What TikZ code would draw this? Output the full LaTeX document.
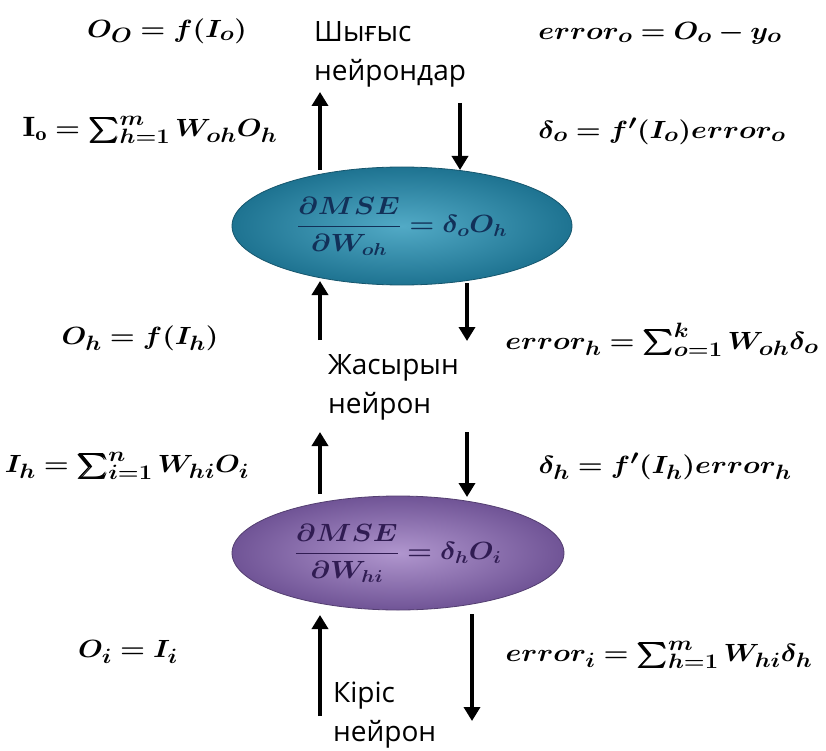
\documentclass[tikz,border=0pt]{standalone}
\usepackage{amsmath}
\usepackage{bm}
\usepackage{graphicx}
\usepackage{fontspec}
\setsansfont{Open Sans}
\usetikzlibrary{arrows.meta,shapes.geometric}
\definecolor{tealout}{RGB}{30,115,145}
\definecolor{tealin}{RGB}{82,170,198}
\definecolor{purpout}{RGB}{112,84,150}
\definecolor{purpin}{RGB}{176,150,206}
\definecolor{tealtxt}{RGB}{18,48,88}
\definecolor{purptxt}{RGB}{48,28,82}
\newcommand{\wideq}[1]{\scalebox{1.15}[1]{$#1$}}
\tikzset{
  eq/.style={font=\fontsize{28}{32}\selectfont, inner sep=0pt},
  lbl/.style={font=\sffamily\fontsize{28}{39}\selectfont, align=left, anchor=north west, inner sep=0pt},
  arr/.style={line width=3.8pt, -{Triangle[width=16pt,length=14pt]}},
  ellteal/.style={ellipse, minimum width=340pt, minimum height=118pt, inner color=tealin, outer color=tealout, draw=tealout!75!black, line width=0.8pt},
  ellpurp/.style={ellipse, minimum width=332pt, minimum height=114pt, inner color=purpin, outer color=purpout, draw=purpout!75!black, line width=0.8pt},
}
\begin{document}
\begin{tikzpicture}[x=1pt,y=-1pt]
\useasboundingbox (0,0) rectangle (826,751);
% ellipses
\node[ellteal] (eo) at (402,226) {};
\node[text=tealtxt, font=\fontsize{27}{30}\selectfont] (eoeq) at (402,226) {\wideq{\bm{\dfrac{\partial MSE}{\partial W_{oh}} = \delta_o O_h}}};
\node[ellpurp] (eh) at (398,553) {};
\node[text=purptxt, font=\fontsize{25}{28}\selectfont] (eheq) at (398,553) {\wideq{\bm{\dfrac{\partial MSE}{\partial W_{hi}} = \delta_h O_i}}};
% arrow coordinates
\coordinate (a1s) at (320,170); \coordinate (a1e) at (320,92);
\coordinate (a2s) at (460,103); \coordinate (a2e) at (460,170);
\coordinate (a3s) at (320,340); \coordinate (a3e) at (320,281);
\coordinate (a4s) at (467,283); \coordinate (a4e) at (467,341);
\coordinate (a5s) at (320,494); \coordinate (a5e) at (320,432);
\coordinate (a6s) at (467,432); \coordinate (a6e) at (467,497);
\coordinate (a7s) at (320,716); \coordinate (a7e) at (320,615);
\coordinate (a8s) at (472,614); \coordinate (a8e) at (472,721);
\draw[arr] (a1s) -- (a1e);
\draw[arr] (a2s) -- (a2e);
\draw[arr] (a3s) -- (a3e);
\draw[arr] (a4s) -- (a4e);
\draw[arr] (a5s) -- (a5e);
\draw[arr] (a6s) -- (a6e);
\draw[arr] (a7s) -- (a7e);
\draw[arr] (a8s) -- (a8e);
% labels
\node[lbl] (l1) at (314,21) {Шығыс\\нейрондар};
\node[lbl] (l2) at (328,354) {Жасырын\\нейрон};
\node[lbl] (l3) at (333,682) {Кіріс\\нейрон};
% equations
\node[eq] (e1) at (167,31) {\wideq{\bm{O_O = f(I_o)}}};
\node[eq] (e2) at (660,33) {\wideq{\bm{error_o = O_o - y_o}}};
\node[eq] (e3) at (150,130) {\wideq{\mathbf{I}_{\mathbf{o}} \bm{= \sum\nolimits_{h=1}^{m} W_{oh} O_h}}};
\node[eq] (e4) at (662,131) {\wideq{\bm{\delta_o = f'(I_o) error_o}}};
\node[eq] (e5) at (140,338) {\wideq{\bm{O_h = f(I_h)}}};
\node[eq] (e6) at (662,340) {\wideq{\bm{error_h = \sum\nolimits_{o=1}^{k} W_{oh} \delta_o}}};
\node[eq] (e7) at (127,466) {\wideq{\bm{I_h = \sum\nolimits_{i=1}^{n} W_{hi} O_i}}};
\node[eq] (e8) at (665,466) {\wideq{\bm{\delta_h = f'(I_h) error_h}}};
\node[eq] (e9) at (128,652) {\wideq{\bm{O_i = I_i}}};
\node[eq] (e10) at (659,655) {\wideq{\bm{error_i = \sum\nolimits_{h=1}^{m} W_{hi} \delta_h}}};
\end{tikzpicture}
\end{document}
